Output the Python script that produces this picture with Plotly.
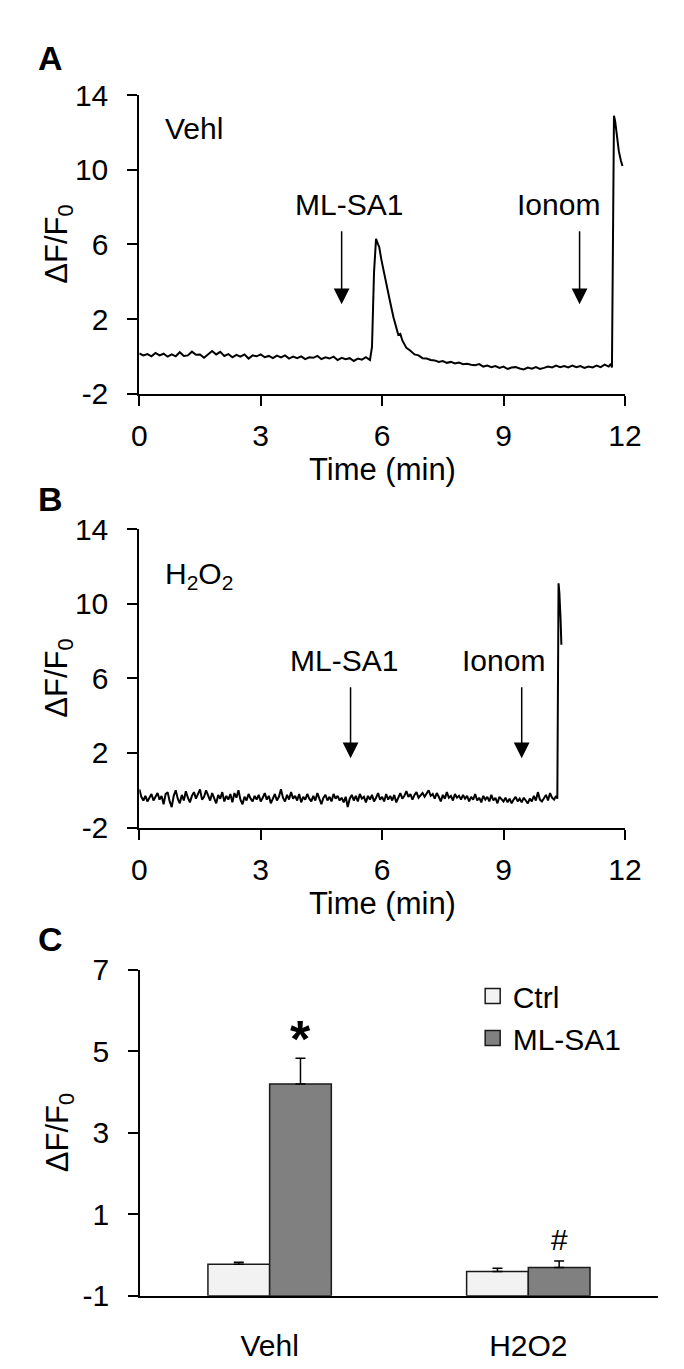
import plotly.graph_objects as go

W, H = 684, 1369
FONT = "Liberation Sans, Arial, sans-serif"
FS = 30
FS_TITLE = 31

# ---------------- Panel A data (Vehl) ----------------
t_a_base1 = [round(0.1 * i, 2) for i in range(58)]          # 0.0 .. 5.7 min
y_a_base1 = [0.15, 0.05, 0.12, 0.00, 0.18, 0.05, 0.14, -0.02, 0.10, 0.00,
             0.22, 0.02, 0.05, 0.25, 0.08, 0.10, -0.08, 0.12, 0.28, 0.10,
             0.24, 0.02, 0.12, -0.05, 0.08, -0.02, 0.10, -0.12, 0.05, 0.00,
             0.10, -0.05, 0.02, -0.10, 0.04, -0.06, 0.05, -0.12, -0.02, -0.10,
             0.00, -0.15, -0.05, -0.08, 0.02, -0.15, -0.05, -0.12, -0.02, -0.20,
             -0.08, -0.15, -0.10, -0.25, -0.12, -0.18, -0.05, -0.20]
t_a_peak = [5.75, 5.80, 5.85, 5.90, 5.93, 5.98, 6.05, 6.10, 6.20, 6.28,
            6.35, 6.40, 6.45, 6.50, 6.60, 6.70, 6.80, 6.90]
y_a_peak = [0.5, 4.5, 6.3, 6.0, 5.85, 5.2, 4.4, 3.9, 2.9, 2.1,
            1.6, 1.15, 1.2, 0.85, 0.45, 0.3, 0.1, 0.05]
t_a_base2 = [round(7.0 + 0.1 * i, 2) for i in range(47)]     # 7.0 .. 11.6 min
y_a_base2 = [-0.10, -0.12, -0.20, -0.22, -0.30, -0.25, -0.35, -0.30, -0.38, -0.33,
             -0.42, -0.40, -0.45, -0.48, -0.42, -0.55, -0.50, -0.58, -0.52, -0.62,
             -0.55, -0.68, -0.60, -0.58, -0.65, -0.70, -0.60, -0.66, -0.58, -0.68,
             -0.62, -0.55, -0.60, -0.50, -0.58, -0.52, -0.60, -0.50, -0.58, -0.52,
             -0.62, -0.55, -0.60, -0.50, -0.58, -0.45, -0.55]
t_a_spike = [11.65, 11.68, 11.73, 11.76, 11.80, 11.85, 11.90, 11.94]
y_a_spike = [-0.40, -0.60, 12.9, 12.6, 11.8, 11.0, 10.5, 10.2]

t_a = t_a_base1 + t_a_peak + t_a_base2 + t_a_spike
y_a = y_a_base1 + y_a_peak + y_a_base2 + y_a_spike

# ---------------- Panel B data (H2O2) ----------------
t_b_base = [round(0.05 * i, 2) for i in range(207)]          # 0.0 .. 10.3 min
y_b_base = [0.05, -0.35, -0.55, -0.30, -0.60, -0.40, -0.20, -0.55, -0.35, -0.15,
            -0.50, -0.30, -0.75, -0.20, -0.10, -0.60, -0.90, -0.30, 0.00, -0.45,
            -0.70, -0.25, -0.55, -0.05, -0.40, -0.65, -0.30, -0.10, -0.45, -0.20,
            0.05, -0.50, -0.35, 0.00, -0.30, -0.55, -0.15, -0.40, -0.70, -0.25,
            -0.45, -0.10, -0.60, -0.30, -0.50, -0.20, -0.65, -0.15, -0.40, 0.00,
            -0.50, -0.75, -0.35, -0.55, -0.20, -0.45, -0.60, -0.30, -0.50, -0.25,
            -0.60, -0.40, -0.15, -0.50, -0.30, -0.70, -0.45, -0.20, -0.55, -0.35,
            0.05, -0.40, -0.60, -0.25, -0.50, -0.10, -0.45, -0.30, -0.55, -0.20,
            -0.65, -0.35, -0.50, -0.20, -0.45, -0.60, -0.30, -0.55, -0.15, -0.50,
            -0.75, -0.40, -0.25, -0.55, -0.35, -0.60, -0.20, -0.45, -0.30, -0.55,
            -0.40, -0.65, -0.35, -0.90, -0.45, -0.25, -0.55, -0.30, -0.60, -0.20,
            -0.45, -0.35, -0.65, -0.30, -0.50, -0.25, -0.60, -0.40, -0.15, -0.50,
            -0.35, -0.60, -0.20, -0.50, -0.30, -0.55, -0.25, -0.65, -0.35, -0.15,
            -0.45, -0.30, -0.05, -0.35, -0.20, -0.50, -0.25, -0.10, -0.40, -0.30,
            -0.15, -0.35, -0.20, 0.00, -0.30, -0.20, -0.45, -0.15, -0.35, -0.60,
            -0.25, -0.45, -0.10, -0.40, -0.30, -0.55, -0.20, -0.40, -0.30, -0.50,
            -0.25, -0.45, -0.30, -0.60, -0.35, -0.50, -0.20, -0.55, -0.40, -0.65,
            -0.30, -0.50, -0.35, -0.60, -0.25, -0.55, -0.40, -0.70, -0.35, -0.50,
            -0.60, -0.40, -0.65, -0.45, -0.70, -0.50, -0.35, -0.60, -0.45, -0.65,
            -0.40, -0.55, -0.70, -0.45, -0.60, -0.30, -0.55, -0.10, -0.50, -0.60,
            -0.45, -0.25, -0.55, -0.15, -0.40, -0.50, -0.30]
t_b_spike = [10.33, 10.36, 10.38, 10.41, 10.43]
y_b_spike = [-0.45, 11.1, 10.6, 9.2, 7.8]

t_b = t_b_base + t_b_spike
y_b = y_b_base + y_b_spike

# ---------------- Panel C data ----------------
groups = ["Vehl", "H2O2"]
ctrl_mean = [-0.23, -0.41]
ctrl_sem = [0.05, 0.08]
mlsa1_mean = [4.20, -0.31]
mlsa1_sem = [0.63, 0.16]
bar_floor = -1

# ticks
x_ticks = [0, 3, 6, 9, 12]
y_ticks_ab = [-2, 2, 6, 10, 14]
y_ticktext_ab = ["-2", "2", "6", "10", "14"]
y_ticks_c = [-1, 1, 3, 5, 7]
y_ticktext_c = ["-1", "1", "3", "5", "7"]

CTRL_COLOR = "#f2f2f2"
ML_COLOR = "#808080"
EDGE = "#1a1a1a"


def px_x(p):
    return p / W


def px_y(p):
    return 1 - p / H


axis_style = dict(showline=True, linecolor="black", linewidth=2,
                  ticks="outside", ticklen=10, tickwidth=2, tickcolor="black",
                  showgrid=False, zeroline=False,
                  tickfont=dict(size=FS, family=FONT, color="black"))

fig = go.Figure()
fig.add_trace(go.Scatter(x=t_a, y=y_a, mode="lines", line=dict(color="black", width=2),
                         xaxis="x", yaxis="y", showlegend=False, hoverinfo="skip"))
fig.add_trace(go.Scatter(x=t_b, y=y_b, mode="lines", line=dict(color="black", width=2),
                         xaxis="x2", yaxis="y2", showlegend=False, hoverinfo="skip"))

fig.add_trace(go.Bar(
    x=groups, y=[m - bar_floor for m in ctrl_mean], base=bar_floor, name="Ctrl",
    marker=dict(color=CTRL_COLOR, line=dict(color=EDGE, width=1.5)),
    error_y=dict(type="data", array=ctrl_sem, arrayminus=[0, 0], symmetric=False,
                 color="black", thickness=1.5, width=5),
    xaxis="x3", yaxis="y3", showlegend=False))
fig.add_trace(go.Bar(
    x=groups, y=[m - bar_floor for m in mlsa1_mean], base=bar_floor, name="ML-SA1",
    marker=dict(color=ML_COLOR, line=dict(color=EDGE, width=1.5)),
    error_y=dict(type="data", array=mlsa1_sem, arrayminus=[0, 0], symmetric=False,
                 color="black", thickness=1.5, width=5),
    xaxis="x3", yaxis="y3", showlegend=False))

# legend entries (square swatches like the reference)
for nm, col, grp in [("Ctrl", CTRL_COLOR, "c"), ("ML-SA1", ML_COLOR, "m")]:
    fig.add_trace(go.Scatter(x=[None], y=[None], mode="markers", name=nm,
                             marker=dict(symbol="square", size=15, color=col,
                                         line=dict(color=EDGE, width=1.5)),
                             xaxis="x3", yaxis="y3", legendgroup=grp, showlegend=True))

A_top, A_bot = 72, 378
B_top, B_bot = 517, 823
C_top, C_bot = 969, 1303
L_AB, R_AB = 128, 632
L_C, R_C = 129, 666

fig.update_layout(
    width=W, height=H, margin=dict(l=0, r=0, t=0, b=0),
    paper_bgcolor="white", plot_bgcolor="white",
    font=dict(family=FONT, size=FS, color="black"),
    barmode="group", bargap=0.523, bargroupgap=0,
    xaxis=dict(domain=[px_x(L_AB), px_x(R_AB)], range=[0, 12], tickvals=x_ticks,
               anchor="y", ticklabelstandoff=4, **axis_style),
    yaxis=dict(domain=[px_y(A_bot), px_y(A_top)], range=[-2, 14], tickvals=y_ticks_ab,
               ticktext=y_ticktext_ab, anchor="x", ticklabelstandoff=13, **axis_style),
    xaxis2=dict(domain=[px_x(L_AB), px_x(R_AB)], range=[0, 12], tickvals=x_ticks,
                anchor="y2", ticklabelstandoff=4, **axis_style),
    yaxis2=dict(domain=[px_y(B_bot), px_y(B_top)], range=[-2, 14], tickvals=y_ticks_ab,
                ticktext=y_ticktext_ab, anchor="x2", ticklabelstandoff=13, **axis_style),
    xaxis3=dict(domain=[px_x(L_C), px_x(R_C)], type="category", anchor="y3",
                showline=True, linecolor="black", linewidth=2, ticks="",
                showgrid=False, zeroline=False, ticklabelstandoff=22,
                tickfont=dict(size=FS, family=FONT, color="black")),
    yaxis3=dict(domain=[px_y(C_bot), px_y(C_top)], range=[-1, 7], tickvals=y_ticks_c,
                ticktext=y_ticktext_c, anchor="x3", ticklabelstandoff=13, **axis_style),
    legend=dict(x=px_x(474), y=px_y(969), xanchor="left", yanchor="top",
                bgcolor="rgba(0,0,0,0)", font=dict(size=FS, family=FONT, color="black"),
                tracegroupgap=6, traceorder="normal"),
)

ann = []
# panel letters
for letter, yc in [("A", 34), ("B", 486), ("C", 937)]:
    ann.append(dict(text=f"<b>{letter}</b>", x=px_x(36), y=px_y(yc), xref="paper", yref="paper",
                    xanchor="center", yanchor="middle", showarrow=False,
                    font=dict(size=34, family=FONT, color="black")))
# y-axis titles
for yc in [(A_top + A_bot) / 2, (B_top + B_bot) / 2, (C_top + C_bot) / 2]:
    ann.append(dict(text="ΔF/F<sub>0</sub>", x=px_x(45), y=px_y(yc), xref="paper", yref="paper",
                    xanchor="center", yanchor="middle", textangle=-90, showarrow=False,
                    font=dict(size=FS_TITLE, family=FONT, color="black")))
# x-axis titles
for yc in [456, 901]:
    ann.append(dict(text="Time (min)", x=px_x((L_AB + R_AB) / 2), y=px_y(yc), xref="paper", yref="paper",
                    xanchor="center", yanchor="middle", showarrow=False,
                    font=dict(size=FS_TITLE, family=FONT, color="black")))

# panel A labels and arrows
ann.append(dict(text="Vehl", x=1.36, y=12.2, xref="x", yref="y", showarrow=False,
                xanchor="center", yanchor="middle", font=dict(size=FS)))
ann.append(dict(text="ML-SA1", x=5.18, y=8.15, xref="x", yref="y", showarrow=False,
                xanchor="center", yanchor="middle", font=dict(size=FS)))
ann.append(dict(text="Ionom", x=10.36, y=8.15, xref="x", yref="y", showarrow=False,
                xanchor="center", yanchor="middle", font=dict(size=FS)))
for xa in [5.0, 10.88]:
    ann.append(dict(text="", x=xa, y=2.79, ax=xa, ay=6.79, xref="x", yref="y",
                    axref="x", ayref="y", showarrow=True, arrowhead=2, arrowsize=2.1,
                    arrowwidth=1.5, arrowcolor="black", standoff=0))

# panel B labels and arrows
ann.append(dict(text="H<sub>2</sub>O<sub>2</sub>", x=1.48, y=11.5, xref="x2", yref="y2", showarrow=False,
                xanchor="center", yanchor="middle", font=dict(size=FS)))
ann.append(dict(text="ML-SA1", x=5.05, y=6.96, xref="x2", yref="y2", showarrow=False,
                xanchor="center", yanchor="middle", font=dict(size=FS)))
ann.append(dict(text="Ionom", x=9.0, y=6.96, xref="x2", yref="y2", showarrow=False,
                xanchor="center", yanchor="middle", font=dict(size=FS)))
for xa in [5.22, 9.45]:
    ann.append(dict(text="", x=xa, y=1.71, ax=xa, ay=5.61, xref="x2", yref="y2",
                    axref="x2", ayref="y2", showarrow=True, arrowhead=2, arrowsize=2.1,
                    arrowwidth=1.5, arrowcolor="black", standoff=0))

# panel C significance marks
ann.append(dict(text="<b>*</b>", x="Vehl", xshift=31, y=5.3, xref="x3", yref="y3", showarrow=False,
                xanchor="center", yanchor="middle", font=dict(size=52)))
ann.append(dict(text="#", x="H2O2", xshift=31, y=0.39, xref="x3", yref="y3", showarrow=False,
                xanchor="center", yanchor="middle", font=dict(size=FS)))

fig.update_layout(annotations=ann)
fig.write_html("out.html")
